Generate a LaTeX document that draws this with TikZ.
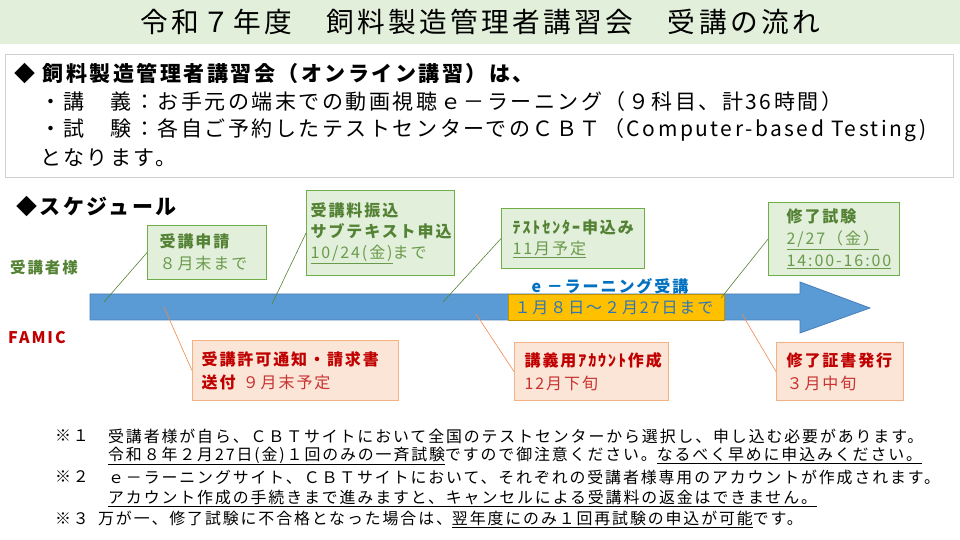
\documentclass[tikz,border=0pt]{standalone}
\usepackage{fontspec}
\setmainfont{Noto Sans CJK JP}[LetterSpace=12]
\usetikzlibrary{positioning}

\definecolor{bandgreen}{HTML}{E2EFDA}
\definecolor{boxgreen}{HTML}{70AD47}
\definecolor{txtgreen}{HTML}{548235}
\definecolor{subgreen}{HTML}{6A9A4C}
\definecolor{fillorange}{HTML}{FBE5D6}
\definecolor{boxorange}{HTML}{F4B183}
\definecolor{lineorange}{HTML}{F08A4B}
\definecolor{txtred}{HTML}{C00000}
\definecolor{subred}{HTML}{C83232}
\definecolor{arrowblue}{HTML}{5B9BD5}
\definecolor{arrowedge}{HTML}{4A7EBB}
\definecolor{periodfill}{HTML}{FFC000}
\definecolor{periodedge}{HTML}{BF9000}
\definecolor{periodtxt}{HTML}{2E75B6}
\definecolor{elearn}{HTML}{0070C0}
\definecolor{infoedge}{HTML}{D0D0D0}

\newcommand{\fsz}[2]{\fontsize{#1bp}{#2bp}\selectfont}

\tikzset{
  txt/.style={anchor=west, inner sep=0pt},
  gbox/.style={draw=boxgreen, fill=bandgreen, line width=1.2bp, anchor=north west,
    align=left, inner ysep=0pt, text=txtgreen, font=\fsz{16}{22}},
  obox/.style={draw=boxorange, fill=fillorange, line width=1.2bp, anchor=north west,
    align=left, inner ysep=0pt, text=txtred, font=\fsz{16}{23}},
  gline/.style={draw=txtgreen, line width=0.6bp},
  oline/.style={draw=lineorange, line width=0.6bp},
  note/.style={txt, font=\fsz{15.9}{20}},
}

\begin{document}
\begin{tikzpicture}[x=1bp, y=-1bp]
\useasboundingbox (0,0) rectangle (960,540);

% title and intro
\node[fill=bandgreen, minimum width=960bp, minimum height=44bp, anchor=north west,
  inner sep=0pt, font=\fsz{27.7}{30}] (title) at (0,0) {令和７年度　飼料製造管理者講習会　受講の流れ};
\node[draw=infoedge, line width=1bp, minimum width=948bp, minimum height=123bp,
  anchor=north west, inner sep=0pt] (intro) at (5,54) {};
\node[txt, font=\fsz{21}{28}\bfseries] (introhead) at (14,74) {◆ 飼料製造管理者講習会（オンライン講習）は、};
\node[txt, font=\fsz{21}{28}] (introa) at (40,102) {・講　義：お手元の端末での動画視聴ｅ－ラーニング（９科目、計36時間）};
\node[txt, font=\fsz{21}{28}] (introb) at (40,130) {・試　験：各自ご予約したテストセンターでのＣＢＴ（Computer-based Testing)};
\node[txt, font=\fsz{21}{28}] (introc) at (40,158) {となります。};

% schedule
\node[txt, font=\fsz{21}{24}\bfseries] (schedule) at (16,207) {◆スケジュール};
\node[txt, font=\fsz{15.5}{20}\bfseries, text=txtgreen] (trainee) at (10,268) {受講者様};
\node[txt, font=\fsz{16}{20}\bfseries, text=txtred] (famic) at (8,338) {FAMIC};

\draw[fill=arrowblue, draw=arrowedge, line width=0.8bp]
  (90,294) -- (800,294) -- (800,282) -- (870,308) -- (800,333) -- (800,320) -- (90,320) -- cycle;
\node[draw=periodedge, fill=periodfill, line width=1bp, anchor=north west, minimum height=26bp,
  text width=204bp, inner xsep=6bp, inner ysep=0pt, align=left, text=periodtxt,
  font=\fsz{16}{20}] (period) at (508,294) {１月８日～２月27日まで};
\node[inner sep=0pt, font=\fsz{16}{20}\bfseries, text=elearn] (elabel) at (610,286) {e －ラーニング受講};

\coordinate (a1) at (104,302);
\coordinate (a2) at (272,304);
\coordinate (a3) at (443,302);
\coordinate (a4) at (721,298);
\coordinate (b1) at (164,307);
\coordinate (b2) at (476,314);
\coordinate (b3) at (742,314);

% trainee side
\node[gbox, text width=95bp, inner xsep=12bp, minimum height=54bp] (apply) at (147,225)
  {\textbf{受講申請}\\{\color{subgreen}８月末まで}};
\node[gbox, text width=140bp, inner xsep=4bp, minimum height=85bp, font=\fsz{16}{21}] (payment) at (306,190)
  {\textbf{受講料振込}\\\textbf{サブテキスト申込}\\{\color{subgreen}\underline{10/24(金)}まで}};
\node[gbox, text width=121bp, inner xsep=11bp, minimum height=60bp, font=\fsz{16}{21}] (center) at (501,208)
  {\textbf{ﾃｽﾄｾﾝﾀｰ申込み}\\{\color{subgreen}\underline{11月予定}}};
\node[gbox, text width=95bp, inner xsep=18bp, minimum height=73bp] (exam) at (768,202)
  {\textbf{修了試験}\\{\color{subgreen}\underline{2/27（金）}}\\{\color{subgreen}\underline{14:00-16:00}}};

% FAMIC side
\node[obox, text width=188bp, inner xsep=9bp, minimum height=60bp] (permit) at (192,340)
  {\textbf{受講許可通知・請求書}\\\textbf{送付} {\color{subred}９月末予定}};
\node[obox, text width=134bp, inner xsep=10bp, minimum height=58bp] (account) at (514,342)
  {\textbf{講義用ｱｶｳﾝﾄ作成}\\{\color{subred}12月下旬}};
\node[obox, text width=107bp, inner xsep=10bp, minimum height=58bp] (certif) at (776,342)
  {\textbf{修了証書発行}\\{\color{subred}３月中旬}};

\draw[gline] (apply.west) -- (a1);
\draw[gline] (payment.west) -- (a2);
\draw[gline] (center.west) -- (a3);
\draw[gline] (exam.west) -- (a4);
\draw[oline] (permit.west) -- (b1);
\draw[oline] (account.west) -- (b2);
\draw[oline] (certif.west) -- (b3);

% notes
\node[note] (mark1) at (55,436) {※１};
\node[note] (note1) at (108,436) {受講者様が自ら、ＣＢＴサイトにおいて全国のテストセンターから選択し、申し込む必要があります。};
\node[note] (note1b) at (108,456) {\underline{令和８年２月27日(金)１回のみの一斉試験}ですので御注意ください。\underline{なるべく早めに申込みください。}};
\node[note] (mark2) at (55,477) {※２};
\node[note] (note2) at (108,477) {ｅ－ラーニングサイト、ＣＢＴサイトにおいて、それぞれの受講者様専用のアカウントが作成されます。};
\node[note] (note2b) at (108,498) {\underline{アカウント作成の手続きまで進みますと、キャンセルによる受講料の返金はできません。}};
\node[note] (mark3) at (55,519) {※３};
\node[note] (note3) at (98,519) {万が一、修了試験に不合格となった場合は、\underline{翌年度にのみ１回再試験の申込が可能}です。};
\end{tikzpicture}
\end{document}
